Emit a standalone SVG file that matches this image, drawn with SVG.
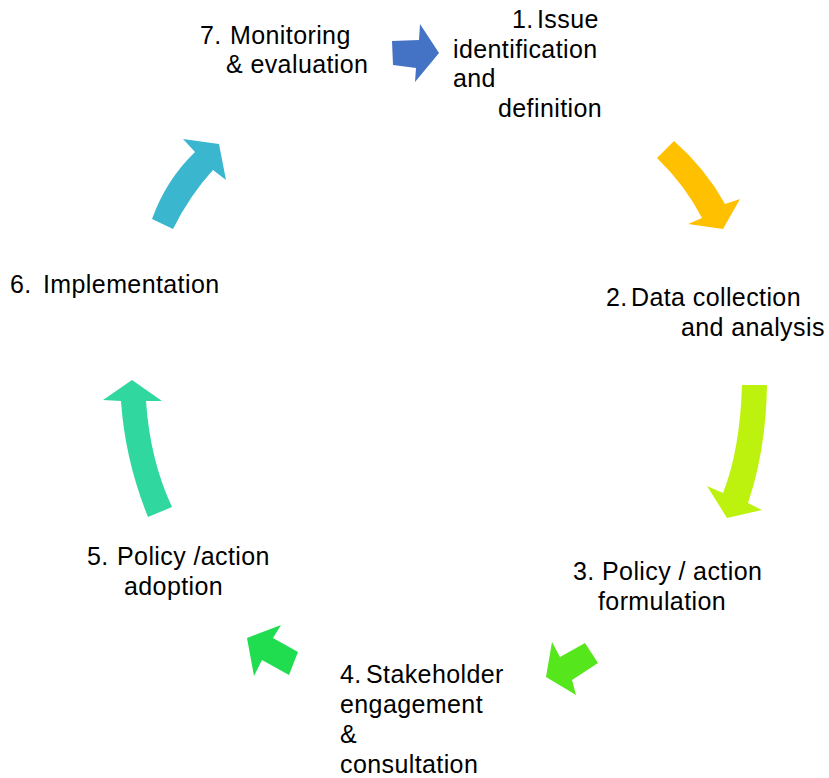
<svg xmlns="http://www.w3.org/2000/svg" width="829" height="778" viewBox="0 0 829 778">
<style>
text{font-family:"Liberation Sans",Arial,sans-serif;font-size:25px;letter-spacing:0.4px;fill:#000}
</style>
<rect width="829" height="778" fill="#fff"/>
<g id="connectors">
<polygon fill="#4472C4" points="392,41 419,40 420,24 439,53 415,82 416,68 393,65"/>
<path fill="#FFC000" d="M657,158 L674,141 Q705,168 725,204 L740,199 L723,229 L688,224 L702,218 Q685,185 657,158 Z"/>
<path fill="#BDF20F" d="M742,385 L767,385 Q766,450 748,503 L762,510 L727,518 L707,486 L723,493 Q740,450 742,385 Z"/>
<polygon fill="#55E61C" points="585,643 598,663 572,680 576,695 546,677 552,642 560,657"/>
<polygon fill="#20DD50" points="247,638 281,625 273,638 298,652 289,675 262,660 254,676"/>
<path fill="#30D8A0" d="M132,380 L162,401 L146,401 Q150,460 172,507 L148,517 Q125,460 121,401 L103,400 Z"/>
<path fill="#3AB7CE" d="M152,219 Q166,180 195,152 L183,139 L219,144 L226,180 L213,170 Q190,195 173,229 Z"/>
</g>
<g id="node1"><text x="512" y="28">1.</text><text x="537" y="28">Issue</text><text x="453" y="58">identification</text><text x="453" y="87">and</text><text x="498" y="117">definition</text></g>
<g id="node2"><text x="606" y="306">2.</text><text x="631" y="306">Data collection</text><text x="681" y="336">and analysis</text></g>
<g id="node3"><text x="573" y="580">3.</text><text x="602" y="580">Policy / action</text><text x="598" y="610">formulation</text></g>
<g id="node4"><text x="340" y="683">4.</text><text x="366" y="683">Stakeholder</text><text x="340" y="713">engagement</text><text x="340" y="743">&amp;</text><text x="340" y="773">consultation</text></g>
<g id="node5"><text x="87" y="565">5.</text><text x="117" y="565">Policy /action</text><text x="124" y="595">adoption</text></g>
<g id="node6"><text x="10" y="293">6.</text><text x="43" y="293">Implementation</text></g>
<g id="node7"><text x="200" y="44">7.</text><text x="230" y="44">Monitoring</text><text x="226" y="73">&amp; evaluation</text></g>
</svg>
